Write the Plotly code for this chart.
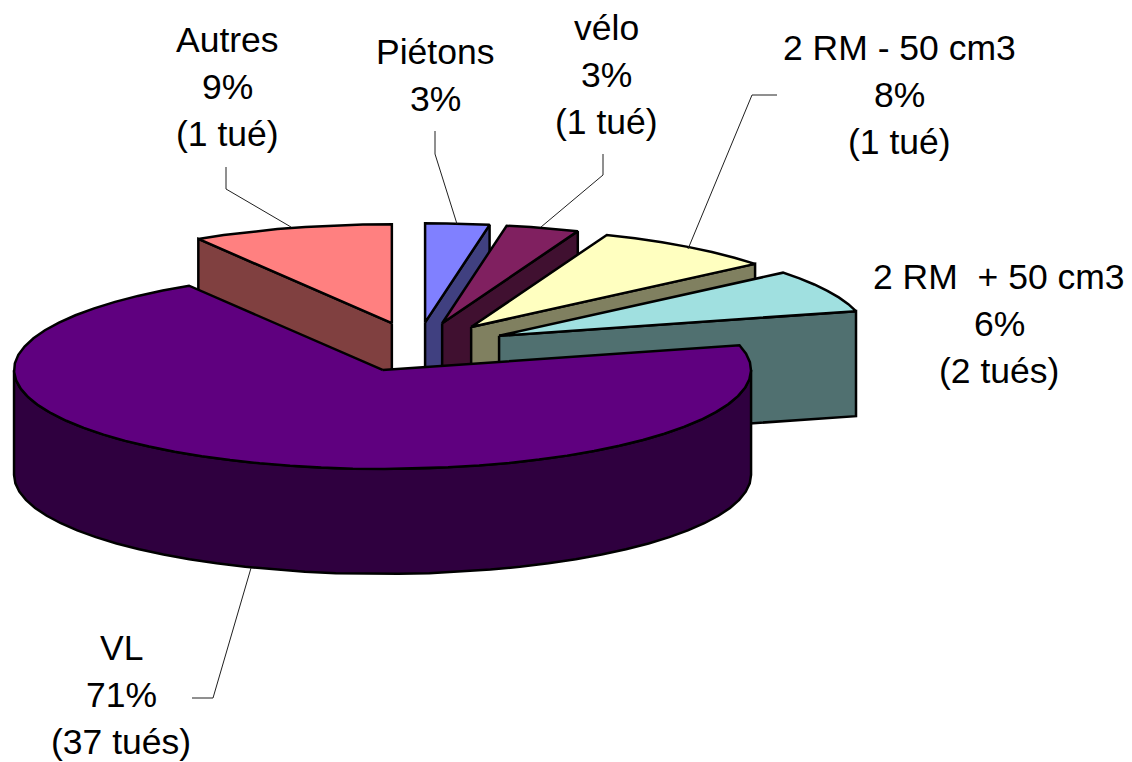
import math
import plotly.graph_objects as go

# Data (order: clockwise from 12 o'clock)
categories = ["Piétons", "vélo", "2 RM - 50 cm3", "2 RM + 50 cm3", "VL", "Autres"]
slice_shares = [2.8, 3.2, 8, 7, 70.2, 8.8]  # angular share of each drawn slice
top_colors = ["#8080FF", "#802060", "#FFFFC0", "#A0E0E0", "#5F007F", "#FF8080"]
side_colors = ["#404080", "#401030", "#808060", "#507070", "#2F003F", "#804040"]

label_lines = [
    ["Autres", "9%", "(1 tué)"],
    ["Piétons", "3%"],
    ["vélo", "3%", "(1 tué)"],
    ["2 RM - 50 cm3", "8%", "(1 tué)"],
    ["2 RM\u00a0 + 50 cm3", "6%", "(2 tués)"],
    ["VL", "71%", "(37 tués)"],
]
label_x = [227, 435, 606, 899, 999, 121]
label_y = [40, 52, 28, 48, 277, 648]
LINE_STEP = 47

leaders = [
    [(226, 167), (226, 189), (291, 227)],
    [(435, 131), (435, 154), (457, 224)],
    [(603, 154), (603, 175), (541, 227)],
    [(777, 95), (752, 95), (688, 249)],
    [(192, 698), (213, 698), (251, 568)],
]

# Projection of the tilted pie onto the page
CX, CY = 417, 347
RX, RY = 368.5, 99
DEPTH = 105
EXPLODE = 0.25
ARC_STEP = 5


def project(center, deg, radius=1.0, drop=0):
    a = math.radians(deg)
    return (center[0] + radius * RX * math.cos(a),
            center[1] - radius * RY * math.sin(a) + drop)


def arc(center, start, end, drop=0):
    n = max(2, int(abs(start - end) / ARC_STEP) + 1)
    return [project(center, start + (end - start) * i / n, drop=drop) for i in range(n + 1)]


def polygon(points, fill):
    xs = [p[0] for p in points] + [points[0][0]]
    ys = [p[1] for p in points] + [points[0][1]]
    return go.Scatter(x=xs, y=ys, mode="lines", fill="toself", fillcolor=fill,
                      line=dict(color="black", width=2.5, shape="linear"),
                      hoverinfo="skip", showlegend=False)


fig = go.Figure()
total = sum(slice_shares)

# Slices are painted back to front, Autres first and VL last
angle = 90.0
spans = []
for name, share, top, side in zip(categories, slice_shares, top_colors, side_colors):
    sweep = 360.0 * share / total
    spans.append((name, angle, angle - sweep, top, side))
    angle -= sweep

for name, start, end, top, side in [spans[5]] + spans[:5]:
    mid = (start + end) / 2
    center = project((CX, CY), mid, radius=EXPLODE)
    if name == "VL":
        # outer rim, visible along the front half of the disc
        upper = arc(center, -180, 0)
        lower = arc(center, 0, -180, drop=DEPTH)
        fig.add_trace(polygon(upper + lower, side))
    else:
        # radial wall that faces the viewer
        wall_angle = start if name == "Autres" else end
        tip = project(center, wall_angle)
        fig.add_trace(polygon([center, tip, (tip[0], tip[1] + DEPTH),
                               (center[0], center[1] + DEPTH)], side))
    fig.add_trace(polygon([center] + arc(center, start, end), top))

for path in leaders:
    fig.add_trace(go.Scatter(x=[p[0] for p in path], y=[p[1] for p in path], mode="lines",
                             line=dict(color="#202020", width=1),
                             hoverinfo="skip", showlegend=False))

annotations = []
for lines, x, y in zip(label_lines, label_x, label_y):
    for i, text in enumerate(lines):
        annotations.append(dict(x=x, y=y + i * LINE_STEP, text=text, showarrow=False,
                                xanchor="center", yanchor="middle",
                                font=dict(family="Liberation Sans", size=35.5, color="black")))

fig.update_layout(
    width=1132, height=762, margin=dict(l=0, r=0, t=0, b=0),
    paper_bgcolor="white", plot_bgcolor="white", showlegend=False,
    xaxis=dict(range=[0, 1132], visible=False, fixedrange=True),
    yaxis=dict(range=[762, 0], visible=False, fixedrange=True),
    annotations=annotations,
)
fig.write_html("out.html", config={"displayModeBar": False},
               post_script="document.body.style.margin='0';document.body.style.overflow='hidden';")
